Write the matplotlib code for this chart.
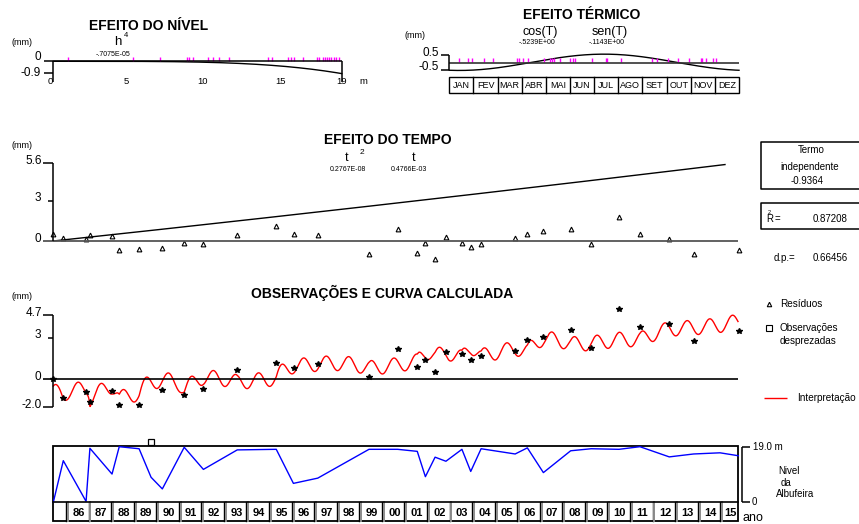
import numpy as np
import matplotlib
matplotlib.use('Agg')
import matplotlib.pyplot as plt
from matplotlib.patches import Rectangle

plt.rcParams['font.family'] = ['Liberation Sans', 'DejaVu Sans']

# ---------------- data ----------------
obs_dates = [1985.44, 1985.88, 1986.87, 1987.06, 1988.04, 1988.36, 1989.25, 1990.27,
             1991.24, 1992.09, 1993.59, 1995.32, 1996.09, 1997.16, 1999.43, 2000.70,
             2001.57, 2001.93, 2002.36, 2002.84, 2003.55, 2003.94, 2004.40, 2005.89,
             2006.45, 2007.14, 2008.37, 2009.28, 2010.51, 2011.44, 2012.74, 2013.82,
             2015.83]
obs_values = [0.00, -1.35, -0.93, -1.66, -0.85, -1.88, -1.88, -0.76, -1.17, -0.73,
              0.68, 1.17, 0.85, 1.10, 0.15, 2.19, 0.88, 1.39, 0.56, 2.00, 1.87, 1.39,
              1.68, 2.07, 2.90, 3.09, 3.58, 2.27, 5.12, 3.80, 4.02, 2.80, 3.51]
residuals = [0.51, 0.24, 0.12, 0.44, 0.34, -0.68, -0.59, -0.54, -0.15, -0.24, 0.46,
             1.08, 0.51, 0.46, -0.97, 0.90, -0.90, -0.17, -1.32, 0.27, -0.17, -0.44,
             -0.24, 0.20, 0.49, 0.73, 0.88, -0.24, 1.76, 0.49, 0.17, -0.93, -0.66]

level_dates = [1985.44, 1985.88, 1986.89, 1987.06, 1988.04, 1988.36, 1989.24, 1989.77,
               1990.27, 1991.24, 1992.09, 1993.59, 1995.32, 1996.08, 1997.16, 1999.43,
               2000.70, 2001.57, 2001.93, 2002.36, 2002.84, 2003.55, 2003.94, 2004.40,
               2005.91, 2006.45, 2007.16, 2008.37, 2009.28, 2010.51, 2011.44, 2012.74,
               2013.82, 2014.99, 2015.80]
level_values = [0.0, 14.2, 0.2, 18.45, 9.6, 19.0, 18.3, 8.5, 4.5, 18.8, 11.2, 17.9,
                18.1, 6.4, 8.2, 18.1, 18.1, 17.4, 8.7, 15.4, 14.0, 18.1, 10.5, 18.3,
                16.5, 18.6, 10.1, 17.6, 18.3, 18.1, 19.0, 15.5, 16.5, 16.9, 15.9]
discarded_dates = [1989.77]

level_tick_values = [0.99, 5.23, 7.03, 8.79, 8.94, 9.18, 10.21, 10.54, 10.92, 11.59,
                     14.16, 14.39, 15.48, 15.64, 15.88, 16.43, 17.39, 17.52, 17.79,
                     17.90, 18.03, 18.16, 18.29, 18.49, 18.62, 18.82]
thermal_tick_months = [0.40, 0.76, 0.94, 1.45, 1.82, 2.82, 2.90, 3.07, 3.26, 3.92,
                       4.17, 4.25, 4.35, 4.59, 5.00, 5.11, 5.22, 5.92, 6.48, 6.55,
                       7.11, 8.38, 8.59, 9.07, 9.47, 9.92, 10.41, 10.48, 10.63, 10.91,
                       11.05]

months = ['JAN', 'FEV', 'MAR', 'ABR', 'MAI', 'JUN', 'JUL', 'AGO', 'SET', 'OUT', 'NOV', 'DEZ']
years = ['86', '87', '88', '89', '90', '91', '92', '93', '94', '95', '96', '97', '98',
         '99', '00', '01', '02', '03', '04', '05', '06', '07', '08', '09', '10', '11',
         '12', '13', '14', '15']
first_year = 1986

coef_level = -0.7075e-05
coef_cos = -0.5239
coef_sin = -0.1143
coef_t2 = 0.2767e-08
coef_t = 0.4766e-03
intercept = -0.9364
r2 = 0.87208
dp = 0.66456

T0, T1 = 1985.437, 2015.787
time_curve_end = 2015.21

# ---------------- figure ----------------
W, H = 859, 524
fig = plt.figure(figsize=(W / 100, H / 100), dpi=100)


def make_ax(xp0, xp1, xlim, yp, yv, top, bot):
    s = (yp[1] - yp[0]) / (yv[1] - yv[0])
    v_top = yv[0] + (top - yp[0]) / s
    v_bot = yv[0] + (bot - yp[0]) / s
    ax = fig.add_axes([xp0 / W, 1 - bot / H, (xp1 - xp0) / W, (bot - top) / H])
    ax.set_xlim(*xlim)
    ax.set_ylim(v_bot, v_top)
    ax.axis('off')
    return ax, (lambda p: yv[0] + (p - yp[0]) / s)


ov = fig.add_axes([0, 0, 1, 1])
ov.set_xlim(0, W)
ov.set_ylim(H, 0)
ov.axis('off')
ov.set_zorder(5)


def T(x, y, s, size=7, ha='center', va='center', **kw):
    ov.text(x, y, s, fontsize=size, ha=ha, va=va, **kw)


def L(xs, ys, c='black', lw=1.0, **kw):
    ov.plot(xs, ys, color=c, lw=lw, solid_capstyle='butt', **kw)


# ===== EFEITO DO NÍVEL =====
axL, pL = make_ax(53.3, 341.7, (0, 19), (61.3, 73.3), (0, -0.9), 40, 90)
h = np.linspace(0, 19, 300)
axL.plot(h, coef_level * h ** 4, color='black', lw=1.0, clip_on=False)
axL.vlines(level_tick_values, 0, pL(57.3), color='#ff00ff', lw=1.0)
L([44.3, 341.7], [61.3, 61.3], lw=1.1)
L([44.3, 53.3], [73.3, 73.3], lw=1.1)
L([53.3, 53.3], [61.3, 82.0], lw=1.1)
L([341.7, 341.7], [61.3, 82.0], lw=1.1)
T(149, 25.5, 'EFEITO DO NÍVEL', size=10, fontweight='bold')
T(22, 42.7, '(mm)', size=6.5)
T(118, 41.8, 'h', size=9.5)
T(126.5, 35.2, '4', size=5.5)
T(112.7, 54, '-.7075E-05', size=5)
T(41, 57.5, '0', size=8.5, ha='right')
T(41, 72.7, '-0.9', size=8.5, ha='right')
for v, lab in zip([0, 5, 10, 15, 19], ['0', '5', '10', '15', '19']):
    xp = 53.3 + v * (341.7 - 53.3) / 19 - (3 if v in (0, 5, 10) else 0)
    T(xp, 81, lab, size=6.8)
T(363, 81, 'm', size=6.8)

# ===== EFEITO TÉRMICO =====
axT, pT = make_ax(449.3, 739, (0, 12), (54.7, 69.9), (0.5, -0.5), 40, 95)
m = np.linspace(0, 12, 400)
Tm = 2 * np.pi * m / 12
axT.plot(m, coef_cos * np.cos(Tm) + coef_sin * np.sin(Tm), color='black', lw=1.0,
         clip_on=False)
axT.vlines(thermal_tick_months, 0, pT(58.3), color='#ff00ff', lw=1.0)
L([449.3, 739], [62.6, 62.6], lw=1.2, c='#333333')
L([449.3, 449.3], [54.7, 69.9], lw=1.1)
L([441, 449.3], [54.7, 54.7], lw=1.1)
L([441, 449.3], [69.9, 69.9], lw=1.1)
T(581.7, 15, 'EFEITO TÉRMICO', size=10, fontweight='bold')
T(415, 35, '(mm)', size=6.5)
T(540, 32.3, 'cos(T)', size=9)
T(609.3, 32.3, 'sen(T)', size=9)
T(537.3, 42.7, '-.5239E+00', size=5)
T(606.7, 42.7, '-.1143E+00', size=5)
T(439, 52.5, '0.5', size=8.5, ha='right')
T(439, 67.5, '-0.5', size=8.5, ha='right')
axT.add_patch(Rectangle((0, pT(92.7)), 12, pT(77.3) - pT(92.7), fill=False,
                        ec='black', lw=1.0, clip_on=False))
for i, mon in enumerate(months):
    if i > 0:
        axT.plot([i, i], [pT(92.7), pT(77.3)], color='black', lw=1.0, clip_on=False)
    axT.text(i + 0.5, pT(85), mon, fontsize=6.5, ha='center', va='center')

# ===== EFEITO DO TEMPO =====
axE, pE = make_ax(53.3, 738, (T0, T1), (163.3, 241), (5.6, 0), 120, 265)
td = np.linspace(T0, time_curve_end, 300)
tt = (td - T0) * 365.25
axE.plot(td, coef_t2 * tt ** 2 + coef_t * tt, color='black', lw=1.0)
axE.plot(obs_dates, residuals, linestyle='none', marker='^', ms=3.4, mfc='none',
         mec='black', mew=0.8, clip_on=False)
L([43.3, 738], [241, 241], lw=1.3, c='#555555')
L([53.3, 53.3], [163.3, 241], lw=1.1)
L([43.3, 53.3], [163.3, 163.3], lw=1.1)
L([48.3, 53.3], [201, 201], lw=1.1)
T(388, 140, 'EFEITO DO TEMPO', size=10, fontweight='bold')
T(22, 145, '(mm)', size=6.5)
T(42, 161, '5.6', size=8.5, ha='right')
T(41, 198, '3', size=8.5, ha='right')
T(41, 239, '0', size=8.5, ha='right')
T(347, 158.3, 't', size=9)
T(361.7, 152.3, '2', size=6)
T(413.3, 158.3, 't', size=9)
T(347.7, 169.3, '0.2767E-08', size=5)
T(409.3, 169.3, '0.4766E-03', size=5)

# right side boxes
L([870, 760.7, 760.7, 870], [141.7, 141.7, 189.3, 189.3], lw=1.1)
L([870, 760.7, 760.7, 870], [202.7, 202.7, 229.3, 229.3], lw=1.1)
T(811.7, 150, 'Termo', size=7)
T(810, 166.7, 'independente', size=7)
T(806.7, 180.5, f'{intercept:.4f}', size=7)
T(769.5, 219.5, 'R', size=7)
T(769.5, 212.5, '2', size=4)
T(777.5, 219, '=', size=7)
T(830, 219, f'{r2:.5f}', size=7)
T(773.3, 258.3, 'd.p.=', size=7, ha='left')
T(830, 258.3, f'{dp:.5f}', size=7)

# ===== OBSERVAÇÕES E CURVA CALCULADA =====
axO, pO = make_ax(53.3, 738, (T0, T1), (315, 406.6), (4.7, -2.0), 280, 420)
dd = np.linspace(T0, T1, 5000)
hh = np.interp(dd, level_dates, level_values)
td2 = (dd - T0) * 365.25
ang = 2 * np.pi * (dd - np.floor(dd))
fit = (intercept + coef_level * hh ** 4 + coef_cos * np.cos(ang) + coef_sin * np.sin(ang)
       + coef_t2 * td2 ** 2 + coef_t * td2)
axO.plot(dd, fit, color='#ff0000', lw=1.0, clip_on=False)
axO.plot(obs_dates, obs_values, linestyle='none', marker='*', ms=4.0, color='black',
         clip_on=False)
L([43.3, 738], [379.3, 379.3], lw=1.2)
L([53.3, 53.3], [315, 406.6], lw=1.1)
L([43.3, 53.3], [315, 315], lw=1.1)
L([48.3, 53.3], [338.3, 338.3], lw=1.1)
L([43.3, 53.3], [406.6, 406.6], lw=1.1)
T(382, 292.5, 'OBSERVAÇÕES E CURVA CALCULADA', size=10, fontweight='bold')
T(22, 296.7, '(mm)', size=6.5)
T(42, 312.5, '4.7', size=8.5, ha='right')
T(41, 335.5, '3', size=8.5, ha='right')
T(41, 376.5, '0', size=8.5, ha='right')
T(42, 404.5, '-2.0', size=8.5, ha='right')

# legend
ov.plot([769.3], [304], marker='^', ms=3.2, mfc='none', mec='black', mew=0.8)
T(779.7, 304, 'Resíduos', size=7.2, ha='left')
ov.plot([769.3], [327.7], marker='s', ms=4.5, mfc='none', mec='black', mew=0.8)
T(779.7, 328.3, 'Observações', size=7.2, ha='left')
T(779.7, 341, 'desprezadas', size=7.2, ha='left')
L([764, 786.7], [398.3, 398.3], c='#ff0000', lw=1.0)
T(797, 398.3, 'Interpretação', size=7.2, ha='left')

# ===== NÍVEL DA ALBUFEIRA =====
axN, pN = make_ax(53.3, 738, (T0, T1), (446.7, 502), (19.0, 0.0), 430, 524)
axN.plot(level_dates, level_values, color='#0000ff', lw=1.0, clip_on=False)
axN.plot(discarded_dates, [pN(442.3)] * len(discarded_dates), linestyle='none',
         marker='s', ms=4.6, mfc='white', mec='black', mew=0.9, clip_on=False)
# year row
yb, yt = pN(520.7), pN(502.3)
for i, yl in enumerate(years):
    x0 = first_year + i
    x1 = min(x0 + 1, T1)
    axN.plot([x0, x0], [yb, yt], color='black', lw=1.0, clip_on=False)
    axN.plot([x0 + 0.085, x0 + 0.085], [yb, yt], color='#8c8c8c', lw=1.4, clip_on=False)
    axN.text((x0 + x1) / 2 + 0.05, pN(512.8), yl, fontsize=8, fontweight='bold',
             ha='center', va='center')
axN.add_patch(Rectangle((T0, yb), T1 - T0, pN(446.3) - yb, fill=False, ec='black',
                        lw=1.3, clip_on=False))
axN.plot([T0, T1], [yt, yt], color='black', lw=1.2, clip_on=False)

L([741.7, 741.7], [446.7, 502], lw=1.1)
L([741.7, 750], [446.7, 446.7], lw=1.1)
L([741.7, 750], [502, 502], lw=1.1)
T(753, 447, '19.0 m', size=7, ha='left')
T(752, 502, '0', size=7, ha='left')
T(789, 470.7, 'Nivel', size=7)
T(786, 482.7, 'da', size=7)
T(795, 494, 'Albufeira', size=7)
T(742.7, 517.7, 'ano', size=9, ha='left')

fig.savefig('out.png', dpi=100)
